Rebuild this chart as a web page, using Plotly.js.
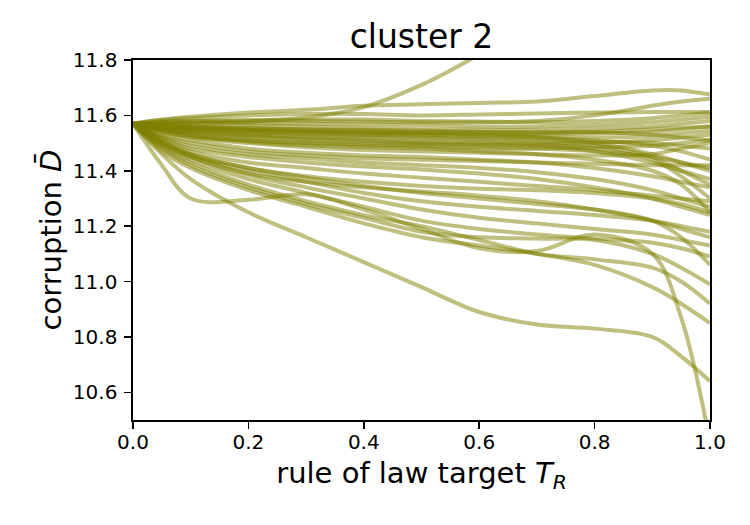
<!DOCTYPE html>
<html>
<head>
<meta charset="utf-8">
<script src="https://cdn.plot.ly/plotly-3.0.1.min.js"></script>
<style>
  html, body { margin: 0; padding: 0; background: #fff; }
  #chart { width: 750px; height: 525px; }
</style>
</head>
<body>
<div id="chart"></div>
<script>
// Rule-of-law target values at which each trajectory is sampled
const targetR = [0, 0.05, 0.1, 0.2, 0.3, 0.4, 0.5, 0.6, 0.7, 0.8, 0.9, 0.95, 1.0];

// Mean corruption trajectories of the runs in cluster 2
const run01 = [11.57, 11.572, 11.574, 11.578, 11.592, 11.63, 11.71, 11.82, 11.95, 12.08, 12.2, 12.3, 12.4];
const run02 = [11.57, 11.585, 11.595, 11.61, 11.62, 11.635, 11.64, 11.645, 11.65, 11.67, 11.69, 11.69, 11.675];
const run03 = [11.57, 11.583, 11.59, 11.60, 11.605, 11.605, 11.60, 11.603, 11.607, 11.61, 11.612, 11.612, 11.612];
const run04 = [11.57, 11.575, 11.578, 11.58, 11.58, 11.578, 11.575, 11.575, 11.58, 11.60, 11.635, 11.65, 11.66];
const run05 = [11.57, 11.578, 11.58, 11.583, 11.585, 11.585, 11.58, 11.578, 11.575, 11.58, 11.59, 11.60, 11.61];
const run06 = [11.57, 11.572, 11.573, 11.572, 11.57, 11.568, 11.565, 11.56, 11.56, 11.565, 11.575, 11.585, 11.595];
const run07 = [11.57, 11.57, 11.568, 11.565, 11.56, 11.555, 11.55, 11.548, 11.548, 11.552, 11.56, 11.57, 11.58];
const run08 = [11.57, 11.565, 11.56, 11.555, 11.55, 11.548, 11.545, 11.54, 11.535, 11.535, 11.54, 11.55, 11.56];
const run09 = [11.57, 11.56, 11.555, 11.548, 11.542, 11.538, 11.535, 11.53, 11.525, 11.52, 11.525, 11.535, 11.545];
const run10 = [11.57, 11.565, 11.56, 11.553, 11.548, 11.545, 11.54, 11.54, 11.54, 11.54, 11.53, 11.52, 11.51];
const run11 = [11.57, 11.558, 11.55, 11.54, 11.533, 11.527, 11.52, 11.515, 11.51, 11.505, 11.50, 11.49, 11.48];
const run12 = [11.57, 11.56, 11.553, 11.545, 11.54, 11.535, 11.53, 11.525, 11.52, 11.50, 11.46, 11.43, 11.40];
const run13 = [11.57, 11.555, 11.545, 11.533, 11.525, 11.52, 11.515, 11.51, 11.505, 11.49, 11.45, 11.40, 11.35];
const run14 = [11.57, 11.552, 11.54, 11.528, 11.52, 11.513, 11.505, 11.50, 11.495, 11.48, 11.44, 11.38, 11.30];
const run15 = [11.57, 11.55, 11.535, 11.52, 11.51, 11.502, 11.497, 11.495, 11.495, 11.50, 11.51, 11.52, 11.53];
const run16 = [11.57, 11.548, 11.53, 11.51, 11.50, 11.495, 11.49, 11.485, 11.48, 11.47, 11.45, 11.43, 11.41];
const run17 = [11.57, 11.545, 11.525, 11.505, 11.492, 11.485, 11.48, 11.47, 11.46, 11.44, 11.40, 11.35, 11.25];
const run18 = [11.57, 11.54, 11.52, 11.50, 11.485, 11.475, 11.47, 11.465, 11.46, 11.455, 11.46, 11.48, 11.50];
const run19 = [11.57, 11.555, 11.548, 11.54, 11.535, 11.53, 11.528, 11.525, 11.52, 11.51, 11.49, 11.47, 11.44];
const run20 = [11.57, 11.562, 11.557, 11.55, 11.545, 11.54, 11.537, 11.535, 11.535, 11.54, 11.55, 11.555, 11.56];
const run21 = [11.57, 11.55, 11.54, 11.525, 11.515, 11.508, 11.50, 11.495, 11.49, 11.47, 11.43, 11.40, 11.37];
const run22 = [11.57, 11.54, 11.525, 11.51, 11.50, 11.49, 11.485, 11.48, 11.48, 11.485, 11.49, 11.50, 11.51];
const run23 = [11.57, 11.53, 11.51, 11.48, 11.465, 11.455, 11.45, 11.44, 11.43, 11.41, 11.38, 11.36, 11.34];
const run24 = [11.57, 11.525, 11.50, 11.47, 11.455, 11.445, 11.44, 11.435, 11.43, 11.425, 11.42, 11.42, 11.42];
const run25 = [11.57, 11.52, 11.49, 11.46, 11.445, 11.43, 11.42, 11.41, 11.395, 11.37, 11.33, 11.30, 11.27];
const run26 = [11.57, 11.515, 11.48, 11.45, 11.43, 11.415, 11.405, 11.39, 11.37, 11.34, 11.30, 11.27, 11.24];
const run27 = [11.57, 11.51, 11.47, 11.43, 11.41, 11.39, 11.375, 11.36, 11.345, 11.33, 11.31, 11.30, 11.29];
const run28 = [11.57, 11.505, 11.46, 11.41, 11.38, 11.36, 11.345, 11.335, 11.33, 11.32, 11.30, 11.28, 11.25];
const run29 = [11.57, 11.50, 11.45, 11.39, 11.36, 11.34, 11.325, 11.31, 11.29, 11.26, 11.22, 11.19, 11.16];
const run30 = [11.57, 11.46, 11.37, 11.25, 11.16, 11.07, 10.98, 10.89, 10.845, 10.83, 10.80, 10.73, 10.64];
const run31 = [11.57, 11.42, 11.30, 11.295, 11.315, 11.26, 11.19, 11.12, 11.11, 11.17, 11.10, 10.87, 10.42];
const run32 = [11.57, 11.47, 11.41, 11.33, 11.27, 11.21, 11.16, 11.13, 11.10, 11.06, 10.98, 10.92, 10.85];
const run33 = [11.57, 11.48, 11.42, 11.34, 11.28, 11.23, 11.18, 11.16, 11.155, 11.15, 11.10, 11.05, 10.99];
const run34 = [11.57, 11.485, 11.43, 11.35, 11.29, 11.24, 11.20, 11.15, 11.10, 11.08, 11.05, 11.00, 10.92];
const run35 = [11.57, 11.49, 11.44, 11.37, 11.32, 11.27, 11.22, 11.19, 11.17, 11.155, 11.14, 11.12, 11.09];
const run36 = [11.57, 11.495, 11.45, 11.385, 11.34, 11.30, 11.26, 11.23, 11.21, 11.19, 11.17, 11.15, 11.13];
const run37 = [11.57, 11.50, 11.455, 11.40, 11.36, 11.32, 11.29, 11.27, 11.255, 11.24, 11.22, 11.20, 11.18];
const run38 = [11.57, 11.505, 11.46, 11.41, 11.375, 11.345, 11.32, 11.30, 11.28, 11.26, 11.22, 11.16, 11.06];

const runs = [run01, run02, run03, run04, run05, run06, run07, run08, run09, run10,
              run11, run12, run13, run14, run15, run16, run17, run18, run19, run20,
              run21, run22, run23, run24, run25, run26, run27, run28, run29, run30,
              run31, run32, run33, run34, run35, run36, run37, run38];

const xTicks = [0, 0.2, 0.4, 0.6, 0.8, 1.0];
const xTickText = ['0.0', '0.2', '0.4', '0.6', '0.8', '1.0'];
const yTicks = [10.6, 10.8, 11.0, 11.2, 11.4, 11.6, 11.8];
const yTickText = ['10.6', '10.8', '11.0', '11.2', '11.4', '11.6', '11.8'];

const traces = runs.map(vals => ({
  type: 'scatter',
  mode: 'lines',
  x: targetR,
  y: vals,
  line: { color: 'rgba(128,128,0,0.5)', width: 4, shape: 'spline', smoothing: 1.0 },
  hoverinfo: 'skip',
  showlegend: false
}));

const font = 'DejaVu Sans, sans-serif';

const layout = {
  width: 750,
  height: 525,
  margin: { l: 133, r: 40, t: 60, b: 105 },
  paper_bgcolor: '#ffffff',
  plot_bgcolor: '#ffffff',
  font: { family: font, color: '#000000' },
  title: {
    text: 'cluster 2',
    font: { family: font, size: 33, color: '#000000' },
    x: 0.5, xref: 'paper', xanchor: 'center',
    y: 0.93, yanchor: 'middle', yref: 'container'
  },
  xaxis: {
    range: [0, 1],
    tickvals: xTicks, ticktext: xTickText,
    ticks: 'outside', ticklen: 7, tickwidth: 1.6, tickcolor: '#000',
    ticklabelstandoff: -4,
    showline: true, linecolor: '#000', linewidth: 1.6, mirror: true,
    showgrid: false, zeroline: false,
    tickfont: { family: font, size: 20, color: '#000' },
    title: { text: 'rule of law target <i>T</i><sub><i>R</i></sub>', font: { family: font, size: 29, color: '#000' }, standoff: 10 }
  },
  yaxis: {
    range: [10.5, 11.8],
    tickvals: yTicks, ticktext: yTickText,
    ticks: 'outside', ticklen: 7, tickwidth: 1.6, tickcolor: '#000',
    ticklabelstandoff: 3,
    showline: true, linecolor: '#000', linewidth: 1.6, mirror: true,
    showgrid: false, zeroline: false,
    tickfont: { family: font, size: 20, color: '#000' },
    title: { text: 'corruption <i>D\u0304</i>', font: { family: font, size: 29, color: '#000' }, standoff: 3 }
  }
};

Plotly.newPlot('chart', traces, layout, { displayModeBar: false, staticPlot: true });
</script>
</body>
</html>
